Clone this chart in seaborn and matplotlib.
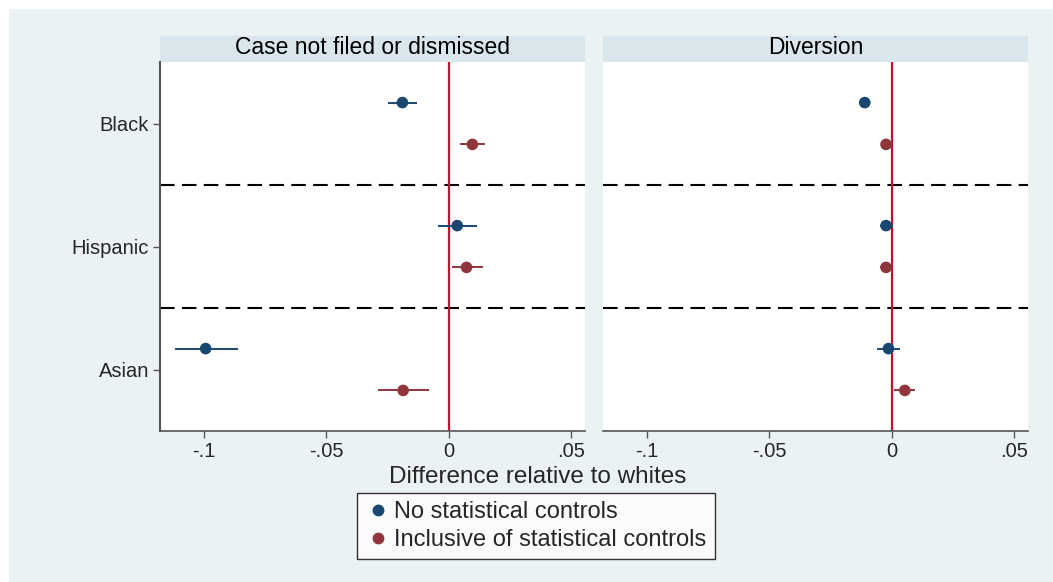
import numpy as np
import pandas as pd
import matplotlib
matplotlib.use("Agg")
import matplotlib.pyplot as plt
from matplotlib.patches import Rectangle
import seaborn as sns

# Estimates (difference relative to whites) with 95% confidence bounds
groups = ["Black", "Hispanic", "Asian"]
models = ["No statistical controls", "Inclusive of statistical controls"]
outcomes = ["Case not filed or dismissed", "Diversion"]

# Case not filed or dismissed
dismiss_est_raw = [-0.0189, 0.0035, -0.0993]
dismiss_lo_raw = [-0.0247, -0.0042, -0.1120]
dismiss_hi_raw = [-0.0131, 0.0117, -0.0862]
dismiss_est_ctrl = [0.0097, 0.0073, -0.0186]
dismiss_lo_ctrl = [0.0048, 0.0014, -0.0289]
dismiss_hi_ctrl = [0.0147, 0.0140, -0.0082]

# Diversion
divert_est_raw = [-0.0110, -0.0023, -0.0013]
divert_lo_raw = [-0.0122, -0.0047, -0.0058]
divert_hi_raw = [-0.0098, 0.0005, 0.0035]
divert_est_ctrl = [-0.0023, -0.0023, 0.0054]
divert_lo_ctrl = [-0.0033, -0.0048, 0.0008]
divert_hi_ctrl = [-0.0013, 0.0002, 0.0097]

x_ticks = [-0.1, -0.05, 0, 0.05]
x_tick_labels = ["-.1", "-.05", "0", ".05"]

rows = []
series = {
    (outcomes[0], models[0]): (dismiss_est_raw, dismiss_lo_raw, dismiss_hi_raw),
    (outcomes[0], models[1]): (dismiss_est_ctrl, dismiss_lo_ctrl, dismiss_hi_ctrl),
    (outcomes[1], models[0]): (divert_est_raw, divert_lo_raw, divert_hi_raw),
    (outcomes[1], models[1]): (divert_est_ctrl, divert_lo_ctrl, divert_hi_ctrl),
}
for (outcome, model), (est, lo, hi) in series.items():
    for i, g in enumerate(groups):
        rows.append(dict(outcome=outcome, model=model, group=g, gidx=i,
                         est=est[i], lo=lo[i], hi=hi[i]))
df = pd.DataFrame(rows)
offset = {models[0]: -0.17, models[1]: 0.17}
df["ypos"] = df["gidx"] + df["model"].map(offset)

sns.set_theme(style="white")
plt.rcParams["font.family"] = ["Liberation Sans", "DejaVu Sans"]

navy = "#1A476F"
maroon = "#90353B"
palette = {models[0]: navy, models[1]: maroon}
bg = "#EAF2F3"
strip_bg = "#D9E6EB"

W, H = 1053, 582
fig = plt.figure(figsize=(W / 100, H / 100), dpi=100, facecolor="white")
fig.patches.append(Rectangle((9 / W, 0), 1 - 9 / W, 1 - 9 / H,
                             transform=fig.transFigure, facecolor=bg,
                             edgecolor="none", zorder=-10))

def fx(px):
    return px / W

def fy(py):
    return 1 - py / H

panels = [(160, 585), (603, 1028)]
top, bottom = 62, 431
axes = []
for k, (x0, x1) in enumerate(panels):
    ax = fig.add_axes([fx(x0), fy(bottom), fx(x1 - x0), (bottom - top) / H])
    ax.set_facecolor("white")
    sub = df[df["outcome"] == outcomes[k]]
    for m in models:
        s = sub[sub["model"] == m]
        ax.hlines(s["ypos"], s["lo"], s["hi"], color=palette[m], lw=1.4, zorder=3)
    sns.scatterplot(data=sub, x="est", y="ypos", hue="model", palette=palette,
                    s=70, edgecolor="none", ax=ax, legend=False, zorder=4)
    ax.axvline(0, color="#C8102E", lw=1.6, zorder=2)
    for yb in [0.5, 1.5]:
        ax.axhline(yb, color="black", lw=1.5, dashes=(7, 3.5), zorder=1)
    ax.set_xlim(-0.1 - 44 / 2450, 0.05 + 14 / 2450)
    ax.set_ylim(2.5, -0.5)
    ax.set_xticks(x_ticks)
    ax.set_xticklabels(x_tick_labels, fontsize=14.5)
    ax.set_xlabel("")
    ax.set_ylabel("")
    ax.tick_params(axis="x", direction="out", length=5, width=1, color="#555555",
                   bottom=True, pad=3)
    for sp in ["top", "right"]:
        ax.spines[sp].set_visible(False)
    ax.spines["bottom"].set_color("#555555")
    ax.spines["bottom"].set_linewidth(1.2)
    if k == 0:
        ax.set_yticks(range(len(groups)))
        ax.set_yticklabels(groups, fontsize=14.5)
        ax.tick_params(axis="y", direction="out", length=5, width=1,
                       color="#555555", left=True, pad=3)
        ax.spines["left"].set_color("#555555")
        ax.spines["left"].set_linewidth(1.5)
    else:
        ax.set_yticks([])
        ax.spines["left"].set_visible(False)
    # strip header
    fig.patches.append(Rectangle((fx(x0), fy(top)), fx(x1 - x0), (top - 36) / H,
                                 transform=fig.transFigure, facecolor=strip_bg,
                                 edgecolor="none", zorder=-5))
    fig.text(fx((x0 + x1) / 2), fy(48), outcomes[k], ha="center", va="center",
             fontsize=16.5, color="black")
    axes.append(ax)

fig.text(fx(538), fy(477), "Difference relative to whites", ha="center",
         va="center", fontsize=17.5)

handles = [plt.Line2D([], [], marker="o", ls="none", color=palette[m],
                      markersize=7.5) for m in models]
leg = fig.legend(handles, models, loc="center", bbox_to_anchor=(fx(536), fy(526)),
                 frameon=True, fontsize=17, handletextpad=0.2,
                 borderpad=0.35, labelspacing=0.25, handlelength=1.0,
                 borderaxespad=0, fancybox=False)
leg.get_frame().set_edgecolor("black")
leg.get_frame().set_linewidth(1.0)
leg.get_frame().set_facecolor("white")

fig.savefig("out.png", dpi=100, facecolor="white")
